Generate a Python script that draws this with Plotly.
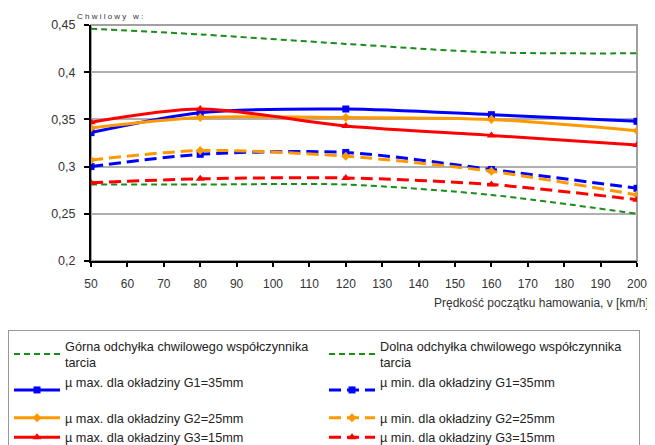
import plotly.graph_objects as go

speed = [50, 80, 120, 160, 200]
green_upper = [0.446, 0.440, 0.430, 0.421, 0.420]
green_lower = [0.281, 0.281, 0.281, 0.270, 0.250]
g1_max = [0.336, 0.357, 0.361, 0.355, 0.348]
g1_min = [0.300, 0.313, 0.315, 0.297, 0.277]
g2_max = [0.341, 0.352, 0.352, 0.350, 0.338]
g2_min = [0.307, 0.317, 0.311, 0.295, 0.270]
g3_max = [0.347, 0.361, 0.343, 0.333, 0.323]
g3_min = [0.283, 0.287, 0.288, 0.281, 0.265]

y_ticks = [0.2, 0.25, 0.3, 0.35, 0.4, 0.45]
y_ticktext = ["0,2", "0,25", "0,3", "0,35", "0,4", "0,45"]
x_ticks = list(range(50, 201, 10))

names = {
    "gu": "Górna odchyłka chwilowego współczynnika<br>tarcia",
    "gl": "Dolna odchyłka chwilowego współczynnika<br>tarcia",
    "g1max": "µ max. dla okładziny G1=35mm<br> ",
    "g1min": "µ min. dla okładziny G1=35mm<br> ",
    "g2max": "µ max. dla okładziny G2=25mm",
    "g2min": "µ min. dla okładziny G2=25mm",
    "g3max": "µ max. dla okładziny G3=15mm",
    "g3min": "µ min. dla okładziny G3=15mm",
}

BLUE = "#0000ff"
ORANGE = "#ff9900"
RED = "#ff0000"
GREEN = "#1a8c1a"

fig = go.Figure()

def add(y, name, color, dash, width, symbol=None, size=7):
    mode = "lines" if symbol is None else "lines+markers"
    fig.add_trace(go.Scatter(
        x=speed, y=y, name=name, mode=mode,
        line=dict(color=color, width=width, dash=dash, shape="spline", smoothing=0.8),
        marker=dict(symbol=symbol or "circle", size=size, color=color),
    ))

add(green_upper, names["gu"], GREEN, "6px,4px", 2)
add(green_lower, names["gl"], GREEN, "6px,4px", 2)
add(g1_max, names["g1max"], BLUE, "solid", 3, "square", 7)
add(g1_min, names["g1min"], BLUE, "12px,6px", 3, "square", 7)
add(g2_max, names["g2max"], ORANGE, "solid", 3, "diamond", 7)
add(g2_min, names["g2min"], ORANGE, "12px,6px", 3, "diamond", 7)
add(g3_max, names["g3max"], RED, "solid", 3, "triangle-up", 8)
add(g3_min, names["g3min"], RED, "12px,6px", 3, "triangle-up", 8)

# page body has an 8px margin, so the figure is 8px smaller and shifted
fig.update_layout(
    width=647, height=437,
    margin=dict(l=83, r=18, t=17, b=184, autoexpand=False),
    paper_bgcolor="white", plot_bgcolor="white",
    font=dict(family="Liberation Sans, Arial, sans-serif", size=12, color="#333333"),
    showlegend=True,
    legend=dict(
        orientation="h",
        x=-0.152, xanchor="left",
        y=-0.292, yanchor="top",
        entrywidth=254, entrywidthmode="pixels",
        itemwidth=46,
        bordercolor="#999999", borderwidth=1,
        bgcolor="white",
        font=dict(size=12.7, color="#222222"),
        tracegroupgap=0,
    ),
    shapes=[dict(type="rect", xref="paper", yref="paper", x0=0, x1=1, y0=0, y1=1,
                 line=dict(color="#a0a0a0", width=2), layer="below")],
    annotations=[
        dict(text="C h w i l o w y   w :", xref="paper", yref="paper",
             x=-0.029, y=1.036, xanchor="left", yanchor="middle", showarrow=False,
             font=dict(size=8, color="#333333")),
        dict(text="Prędkość początku hamowania, v [km/h]", xref="paper", yref="paper",
             x=1.026, y=-0.178, xanchor="right", yanchor="middle", showarrow=False,
             font=dict(size=12, color="#333333")),
    ],
)

fig.update_xaxes(
    range=[50, 200], tickvals=x_ticks, showgrid=False,
    showline=True, linecolor="black", linewidth=2,
    ticks="outside", ticklen=4, tickcolor="black", tickwidth=1.5,
    ticklabelstandoff=7,
    zeroline=False, tickfont=dict(size=12, color="#333333"),
)
fig.update_yaxes(
    range=[0.2, 0.45], tickvals=y_ticks, ticktext=y_ticktext,
    showgrid=True, gridcolor="#b0b0b0", gridwidth=2,
    showline=True, linecolor="black", linewidth=2,
    ticks="outside", ticklen=5, tickcolor="black", tickwidth=1.5,
    ticklabelstandoff=6,
    zeroline=False, tickfont=dict(size=12.5, color="#333333"),
)

fig.write_html("out.html")
